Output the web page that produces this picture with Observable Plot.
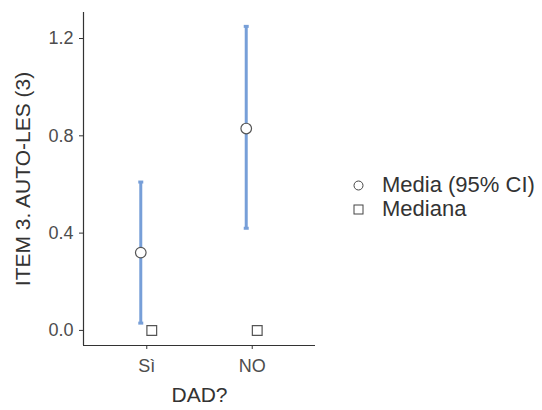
<!DOCTYPE html>
<html><head><meta charset="utf-8">
<script src="https://cdn.jsdelivr.net/npm/d3@7"></script>
<script src="https://cdn.jsdelivr.net/npm/@observablehq/plot@0.6"></script>
<style>
body{margin:0;background:#fff;font-family:"Liberation Sans",Arial,sans-serif;}
#wrap{position:relative;width:542px;height:410px;}
#legend{position:absolute;left:352px;top:173px;font-size:22px;color:#333;line-height:24px;}
#legend div{display:flex;align-items:center;}
#legend svg{margin-right:17px;}
</style></head><body>
<div id="wrap"><div id="chart"></div>
<div id="legend">
<div><svg width="13" height="13"><circle cx="6.5" cy="6.5" r="4.5" fill="#fff" stroke="#444" stroke-width="1"/></svg>Media (95% CI)</div>
<div><svg width="13" height="13"><rect x="2" y="2" width="9" height="9" fill="#fff" stroke="#444" stroke-width="1"/></svg>Mediana</div>
</div></div>
<script>
const groups = ["Sì", "NO"];
const means = [0.32, 0.83];
const lower = [0.03, 0.42];
const upper = [0.61, 1.25];
const medians = [0, 0];
const yTicks = [0, 0.4, 0.8, 1.2];

const data = groups.map((g, i) => ({g, i: i + 1, mean: means[i], lo: lower[i], hi: upper[i], med: medians[i]}));
const capSymbol = {draw(ctx, size) { const r = 2.5; ctx.moveTo(-r, 0); ctx.lineTo(r, 0); }};
const barColor = "#779fd8";

const chart = Plot.plot({
  width: 542, height: 410,
  marginLeft: 83, marginRight: 227, marginTop: 12, marginBottom: 65,
  style: {fontFamily: '"Liberation Sans", Arial, sans-serif', background: "#fff", fontSize: "18px", color: "#4d4d4d"},
  x: {type: "linear", domain: [0.4, 2.6], axis: null},
  y: {domain: [-0.062, 1.307], axis: null},
  marks: [
    Plot.ruleX([0.4], {stroke: "#333", strokeWidth: 1.2}),
    Plot.ruleY([-0.062], {stroke: "#333", strokeWidth: 1.2}),
    Plot.axisY({ticks: yTicks, tickFormat: d3.format(".1f"), tickSize: 4, tickPadding: 6, fontSize: 18, color: "#4d4d4d", stroke: "#333", label: null}),
    Plot.axisX({ticks: [1, 2], tickFormat: d => groups[d - 1], tickSize: 4, tickPadding: 10, fontSize: 18, color: "#4d4d4d", stroke: "#333", label: null, anchor: "bottom"}),
    Plot.text(["ITEM 3. AUTO-LES (3)"], {frameAnchor: "left", textAnchor: "middle", dx: -60, rotate: -90, fontSize: 21, fill: "#333"}),
    Plot.text(["DAD?"], {frameAnchor: "bottom", dy: 56, fontSize: 21, fill: "#333"}),
    Plot.ruleX(data, {x: "i", y1: "lo", y2: "hi", dx: -6, stroke: barColor, strokeWidth: 3}),
    Plot.dot(data, {x: "i", y: "lo", dx: -6, symbol: capSymbol, stroke: barColor, strokeWidth: 3}),
    Plot.dot(data, {x: "i", y: "hi", dx: -6, symbol: capSymbol, stroke: barColor, strokeWidth: 3}),
    Plot.dot(data, {x: "i", y: "mean", dx: -6, r: 5.3, fill: "#fff", stroke: "#555", strokeWidth: 1.2}),
    Plot.dot(data, {x: "i", y: "med", dx: 5, symbol: "square", r: 5.5, fill: "#fff", stroke: "#555", strokeWidth: 1.2})
  ]
});
document.getElementById("chart").appendChild(chart);
</script>
</body></html>
